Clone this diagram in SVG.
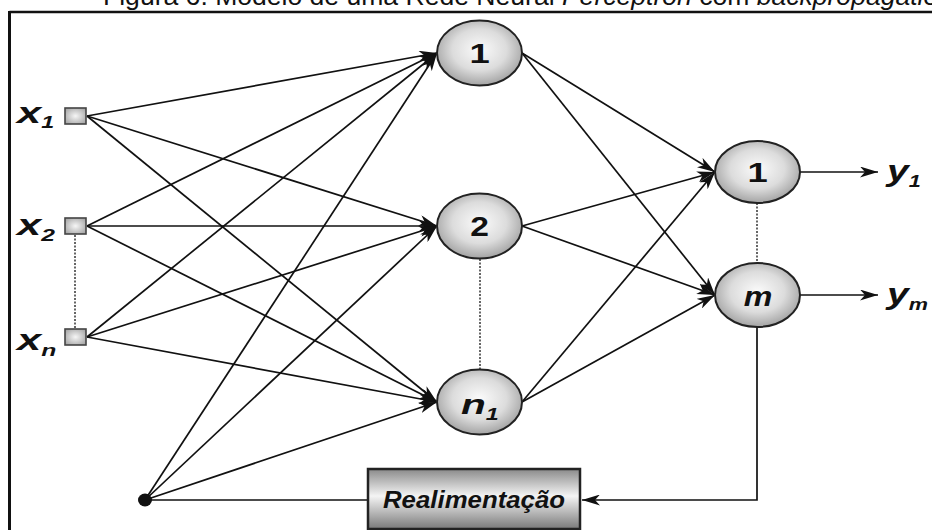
<svg xmlns="http://www.w3.org/2000/svg" width="932" height="530" viewBox="0 0 932 530">
  <defs>
    <radialGradient id="nodeFill" cx="50%" cy="45%" r="58%">
      <stop offset="0" stop-color="#fbfbfb"/>
      <stop offset="0.55" stop-color="#dcdcdc"/>
      <stop offset="1" stop-color="#9c9c9c"/>
    </radialGradient>
    <radialGradient id="inputFill" cx="50%" cy="50%" r="60%">
      <stop offset="0" stop-color="#f6f6f6"/>
      <stop offset="1" stop-color="#a8a8a8"/>
    </radialGradient>
    <linearGradient id="boxFill" x1="0" y1="0" x2="0" y2="1">
      <stop offset="0" stop-color="#8a8a8a"/>
      <stop offset="0.45" stop-color="#f4f4f4"/>
      <stop offset="1" stop-color="#7a7a7a"/>
    </linearGradient>
    <marker id="arrow" viewBox="0 0 18 11" refX="18" refY="5.5" markerWidth="18" markerHeight="11" markerUnits="userSpaceOnUse" orient="auto">
      <path d="M0,0 L18,5.5 L0,11 L5,5.5 z" fill="#111"/>
    </marker>
    <style>
      .title { font-family: "Liberation Sans", Arial, sans-serif; font-size: 26px; fill: #111; }
      .edge { stroke: #111; stroke-width: 1.7; fill: none; }
      .arr { marker-end: url(#arrow); }
      .dots { stroke: #666; stroke-width: 2; stroke-dasharray: 2 1.5; fill: none; }
      .node { fill: url(#nodeFill); stroke: #222; stroke-width: 2; }
      .inp { fill: url(#inputFill); stroke: #444; stroke-width: 1.6; }
      .lbl { font-family: "Liberation Sans", Arial, sans-serif; font-weight: bold; fill: #111; }
      .it { font-style: italic; }
    </style>
  </defs>

  <rect width="932" height="530" fill="#ffffff"/>

  <!-- caption and frame -->
  <text class="title" x="103" y="5" textLength="850" lengthAdjust="spacingAndGlyphs">Figura 6. Modelo de uma Rede Neural <tspan font-style="italic">Perceptron</tspan> com <tspan font-style="italic">backpropagation</tspan></text>
  <line x1="9.5" y1="12" x2="932" y2="12" stroke="#111" stroke-width="2.5"/>
  <line x1="9.5" y1="11" x2="9.5" y2="530" stroke="#111" stroke-width="3"/>

  <g id="connectors">
    <!-- inputs to hidden layer -->
    <line class="edge arr" x1="87" y1="116" x2="437" y2="53"/>
    <line class="edge arr" x1="87" y1="116" x2="437" y2="226"/>
    <line class="edge arr" x1="87" y1="116" x2="437" y2="402"/>
    <line class="edge arr" x1="87" y1="226" x2="437" y2="53"/>
    <line class="edge arr" x1="87" y1="226" x2="437" y2="226"/>
    <line class="edge arr" x1="87" y1="226" x2="437" y2="402"/>
    <line class="edge arr" x1="87" y1="337" x2="437" y2="53"/>
    <line class="edge arr" x1="87" y1="337" x2="437" y2="226"/>
    <line class="edge arr" x1="87" y1="337" x2="437" y2="402"/>
    <!-- bias / feedback point to hidden layer -->
    <line class="edge arr" x1="145" y1="500" x2="437" y2="53"/>
    <line class="edge arr" x1="145" y1="500" x2="437" y2="226"/>
    <line class="edge arr" x1="145" y1="500" x2="437" y2="402"/>
    <line class="edge" x1="145" y1="500" x2="368" y2="500"/>
    <!-- hidden to output layer -->
    <line class="edge arr" x1="522" y1="53" x2="715" y2="172"/>
    <line class="edge arr" x1="522" y1="53" x2="715" y2="295"/>
    <line class="edge arr" x1="522" y1="226" x2="715" y2="172"/>
    <line class="edge arr" x1="522" y1="226" x2="715" y2="295"/>
    <line class="edge arr" x1="522" y1="402" x2="715" y2="172"/>
    <line class="edge arr" x1="522" y1="402" x2="715" y2="295"/>
    <!-- outputs -->
    <line class="edge arr" x1="800" y1="172" x2="878" y2="172"/>
    <line class="edge arr" x1="800" y1="295" x2="878" y2="295"/>
    <!-- feedback loop -->
    <polyline class="edge arr" points="757,327 757,500 582,500"/>
    <!-- ellipsis markers -->
    <line class="dots" x1="75" y1="235" x2="75" y2="329"/>
    <line class="dots" x1="480" y1="259" x2="480" y2="370"/>
    <line class="dots" x1="757" y1="203" x2="757" y2="263"/>
  </g>

  <g id="x1">
    <rect class="inp" x="65" y="108" width="21" height="16"/>
    <text class="lbl it" transform="translate(17,123) scale(1.45,1)" font-size="30">x<tspan font-size="16" dy="5">1</tspan></text>
  </g>
  <g id="x2">
    <rect class="inp" x="65" y="218" width="21" height="16"/>
    <text class="lbl it" transform="translate(17,235) scale(1.45,1)" font-size="30">x<tspan font-size="17" dy="6">2</tspan></text>
  </g>
  <g id="xn">
    <rect class="inp" x="65" y="329" width="21" height="16"/>
    <text class="lbl it" transform="translate(17,350) scale(1.45,1)" font-size="30">x<tspan font-size="17" dy="6">n</tspan></text>
  </g>

  <g id="bias">
    <ellipse cx="145" cy="500" rx="7" ry="6.5" fill="#111"/>
  </g>

  <g id="h1">
    <ellipse class="node" cx="479.5" cy="53" rx="42.5" ry="32.5"/>
    <text class="lbl" transform="translate(479.5,63) scale(1.3,1)" font-size="28" text-anchor="middle">1</text>
  </g>
  <g id="h2">
    <ellipse class="node" cx="479.5" cy="226" rx="42.5" ry="32.5"/>
    <text class="lbl" transform="translate(479.5,236) scale(1.2,1)" font-size="28" text-anchor="middle">2</text>
  </g>
  <g id="hn1">
    <ellipse class="node" cx="479.5" cy="402" rx="42.5" ry="32.5"/>
    <text class="lbl it" transform="translate(461,414) scale(1.45,1)" font-size="28">n<tspan font-size="16" dy="6">1</tspan></text>
  </g>

  <g id="o1">
    <ellipse class="node" cx="757.5" cy="172" rx="42.5" ry="31"/>
    <text class="lbl" transform="translate(757.5,182) scale(1.3,1)" font-size="28" text-anchor="middle">1</text>
  </g>
  <g id="om">
    <ellipse class="node" cx="757.5" cy="295" rx="42.5" ry="32"/>
    <text class="lbl it" transform="translate(758,306) scale(1.15,1)" font-size="28" text-anchor="middle">m</text>
  </g>

  <g id="y1">
    <text class="lbl it" transform="translate(887,181) scale(1.35,1)" font-size="29">y<tspan font-size="16" dy="6">1</tspan></text>
  </g>
  <g id="ym">
    <text class="lbl it" transform="translate(887,304) scale(1.35,1)" font-size="29">y<tspan font-size="16" dy="6">m</tspan></text>
  </g>

  <g id="realimentacao">
    <rect x="368" y="469" width="212" height="60" fill="url(#boxFill)" stroke="#222" stroke-width="2.5"/>
    <text class="lbl it" x="383" y="508" font-size="24" textLength="182" lengthAdjust="spacingAndGlyphs">Realimentação</text>
  </g>
</svg>
